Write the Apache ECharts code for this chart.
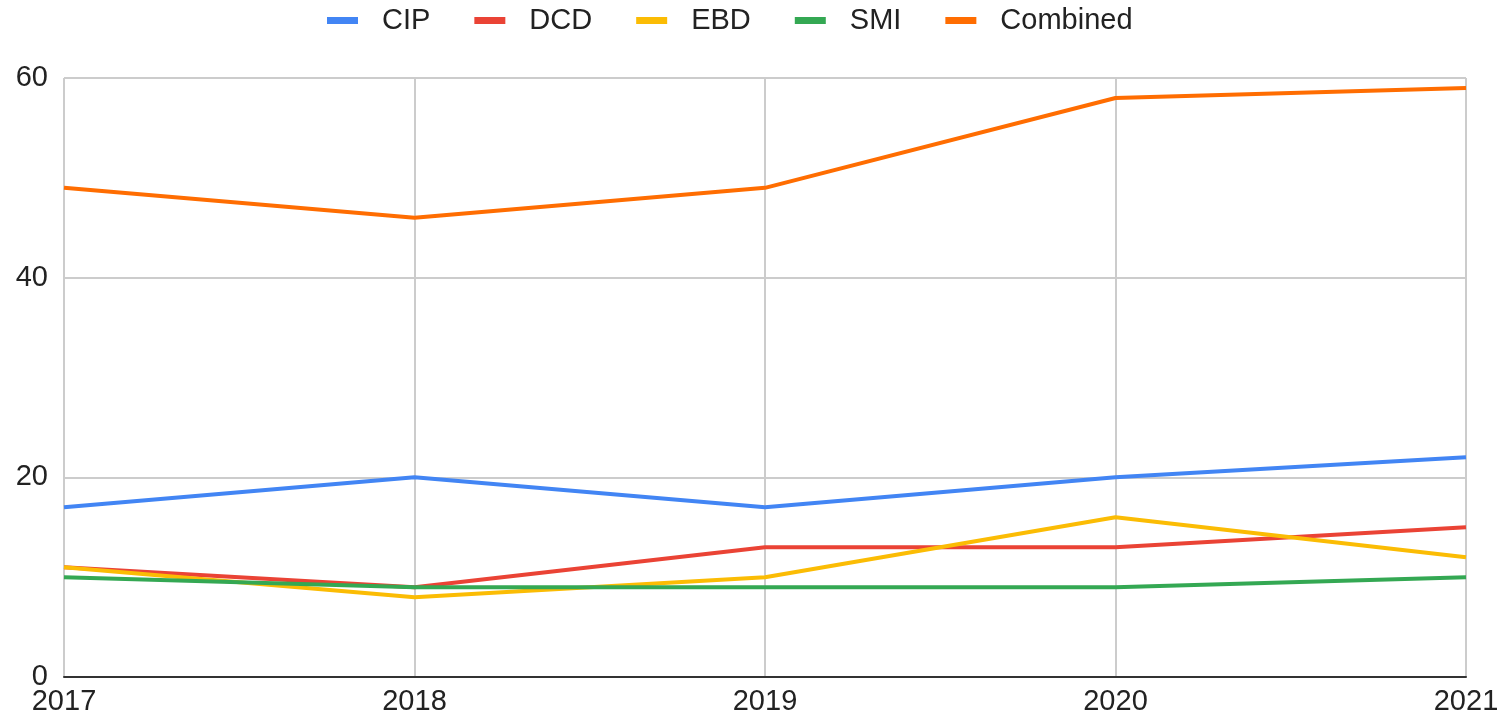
<!DOCTYPE html>
<html>
<head>
<meta charset="utf-8">
<script src="https://cdn.jsdelivr.net/npm/echarts@6/dist/echarts.min.js"></script>
<style>html,body{margin:0;padding:0;background:#fff}#c{width:1509px;height:718px}</style>
</head>
<body>
<div id="c"></div>
<script>
const years = ['2017', '2018', '2019', '2020', '2021'];
const cip = [17, 20, 17, 20, 22];
const dcd = [11, 9, 13, 13, 15];
const ebd = [11, 8, 10, 16, 12];
const smi = [10, 9, 9, 9, 10];
const combined = [49, 46, 49, 58, 59];
const seriesNames = ['CIP', 'DCD', 'EBD', 'SMI', 'Combined'];
const seriesData = [cip, dcd, ebd, smi, combined];
const colors = ['#4285F4', '#EA4335', '#FBBC04', '#34A853', '#FF6D01'];

const FONT = 'Liberation Sans, Arial, sans-serif';
const chart = echarts.init(document.getElementById('c'));
chart.setOption({
  animation: false,
  color: colors,
  textStyle: { fontFamily: FONT },
  legend: {
    top: 1,
    left: 322,
    itemWidth: 31,
    itemHeight: 7,
    itemGap: 44,
    icon: 'rect',
    textStyle: { fontSize: 29, color: '#222', fontFamily: FONT, padding: [0, 0, 0, 19] },
    data: seriesNames
  },
  grid: { left: 64, right: 43, top: 78, bottom: 41, containLabel: false },
  xAxis: {
    type: 'category',
    data: years,
    boundaryGap: false,
    axisLine: { show: true, lineStyle: { color: '#333', width: 2 } },
    axisTick: { show: false },
    axisLabel: { fontSize: 29, color: '#222', margin: 10, interval: 0, fontFamily: FONT },
    splitLine: { show: true, lineStyle: { color: '#ccc', width: 2 } }
  },
  yAxis: {
    type: 'value',
    min: 0,
    max: 60,
    interval: 20,
    axisLine: { show: false },
    axisTick: { show: false },
    axisLabel: { fontSize: 29, color: '#222', margin: 16, verticalAlign: 'middle', fontFamily: FONT },
    splitLine: { show: true, lineStyle: { color: '#ccc', width: 2 } }
  },
  series: seriesNames.map((n, i) => ({
    name: n,
    type: 'line',
    data: seriesData[i],
    symbol: 'none',
    lineStyle: { width: 4, color: colors[i] },
    itemStyle: { color: colors[i] }
  }))
});
</script>
</body>
</html>
